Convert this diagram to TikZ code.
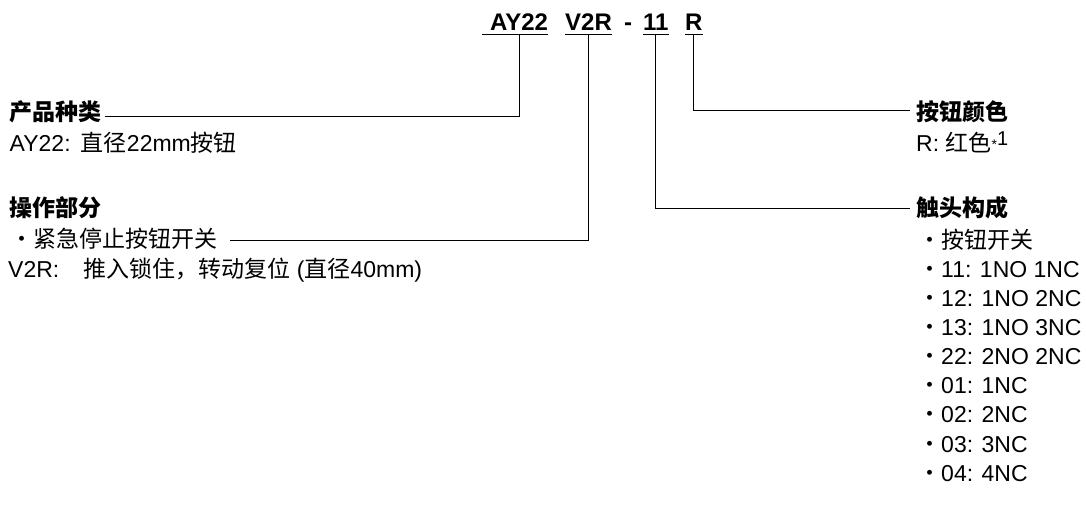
\documentclass[tikz,border=0pt]{standalone}
\usepackage{fontspec}
\setmainfont{Liberation Sans}
\newfontfamily\zh{Noto Sans CJK SC}
\usepackage{tikz}
\usetikzlibrary{positioning}
\newcommand{\zw}[1]{{\zh #1}}

\begin{document}
\begin{tikzpicture}[
    x=1pt, y=-1pt,
    every node/.style={font=\fontsize{23}{28.75}\selectfont, inner sep=0pt,
      text height=18pt, text depth=5pt},
    code/.style={font=\fontsize{24}{24}\selectfont\bfseries, anchor=base west,
      inner ysep=4pt, text height=17pt, text depth=0pt},
    lhead/.style={font=\fontsize{23}{28.75}\selectfont\bfseries, anchor=base west, inner xsep=3pt},
    rhead/.style={font=\fontsize{23}{28.75}\selectfont\bfseries, anchor=base west, inner xsep=6pt},
    body/.style={anchor=base west},
    item/.style={anchor=north west},
    uline/.style={line width=1.2pt},
    lead/.style={line width=1pt}
  ]
    \fill[white] (0,0) rectangle (1086,512);
    \useasboundingbox (0,0) rectangle (1086,512);

    % model code
    \node[code] (hAY) at (490,30) {AY22};
    \node[code] (hV) at (565,30) {V2R};
    \node[code] (hDash) at (624,30) {-};
    \node[code] (h11) at (643,30) {11};
    \node[code] (hR) at (685,30) {R};
    \draw[uline] ([xshift=-8pt]hAY.south west) -- (hAY.south east);
    \draw[uline] (hV.south west) -- (hV.south east);
    \draw[uline] (h11.south west) -- (h11.south east);
    \draw[uline] (hR.south west) -- (hR.south east);

    % left column
    \node[lhead] (tType) at (6.5,120) {\zw{产品种类}};
    \node[body] (tTypeAY) at (9.5,151) {AY22:\hspace{0.45em}\zw{直径}22mm\zw{按钮}};
    \node[lhead] (tOp) at (6.5,216) {\zw{操作部分}};
    \node[body] (tOpSw) at (10,247) {\zw{・紧急停止按钮开关}};
    \node[body] (tOpV) at (8,277) {V2R:\hspace{1.05em}\zw{推入锁住，转动复位} (\zw{直径}40mm)};

    % right column
    \node[rhead] (tColor) at (910,120) {\zw{按钮颜色}};
    \node[body] (tColorR) at (916,151) {R: \zw{红色}{\fontsize{14}{14}\selectfont\raisebox{2pt}{*}}\raisebox{6pt}{\fontsize{20}{20}\selectfont 1}};
    \node[rhead] (tCont) at (910,216) {\zw{触头构成}};
    \node[body] (c0) at (918,248) {\zw{・按钮开关}};
    \node[item, below=5.75pt of c0.south west, anchor=north west] (c1) {\zw{・}11: 1NO 1NC};
    \node[item, below=5.75pt of c1.south west, anchor=north west] (c2) {\zw{・}12: 1NO 2NC};
    \node[item, below=5.75pt of c2.south west, anchor=north west] (c3) {\zw{・}13: 1NO 3NC};
    \node[item, below=5.75pt of c3.south west, anchor=north west] (c4) {\zw{・}22: 2NO 2NC};
    \node[item, below=5.75pt of c4.south west, anchor=north west] (c5) {\zw{・}01: 1NC};
    \node[item, below=5.75pt of c5.south west, anchor=north west] (c6) {\zw{・}02: 2NC};
    \node[item, below=5.75pt of c6.south west, anchor=north west] (c7) {\zw{・}03: 3NC};
    \node[item, below=5.75pt of c7.south west, anchor=north west] (c8) {\zw{・}04: 4NC};

    % leaders
    \draw[lead] (hAY.south) |- ([yshift=-2.5pt]tType.east);
    \draw[lead] (hV.south) |- ([xshift=13pt]tOpSw.east);
    \draw[lead] (h11.south) |- ([yshift=1.5pt]tCont.west);
    \draw[lead] (hR.south) |- ([yshift=2.8pt]tColor.west);
\end{tikzpicture}
\end{document}
